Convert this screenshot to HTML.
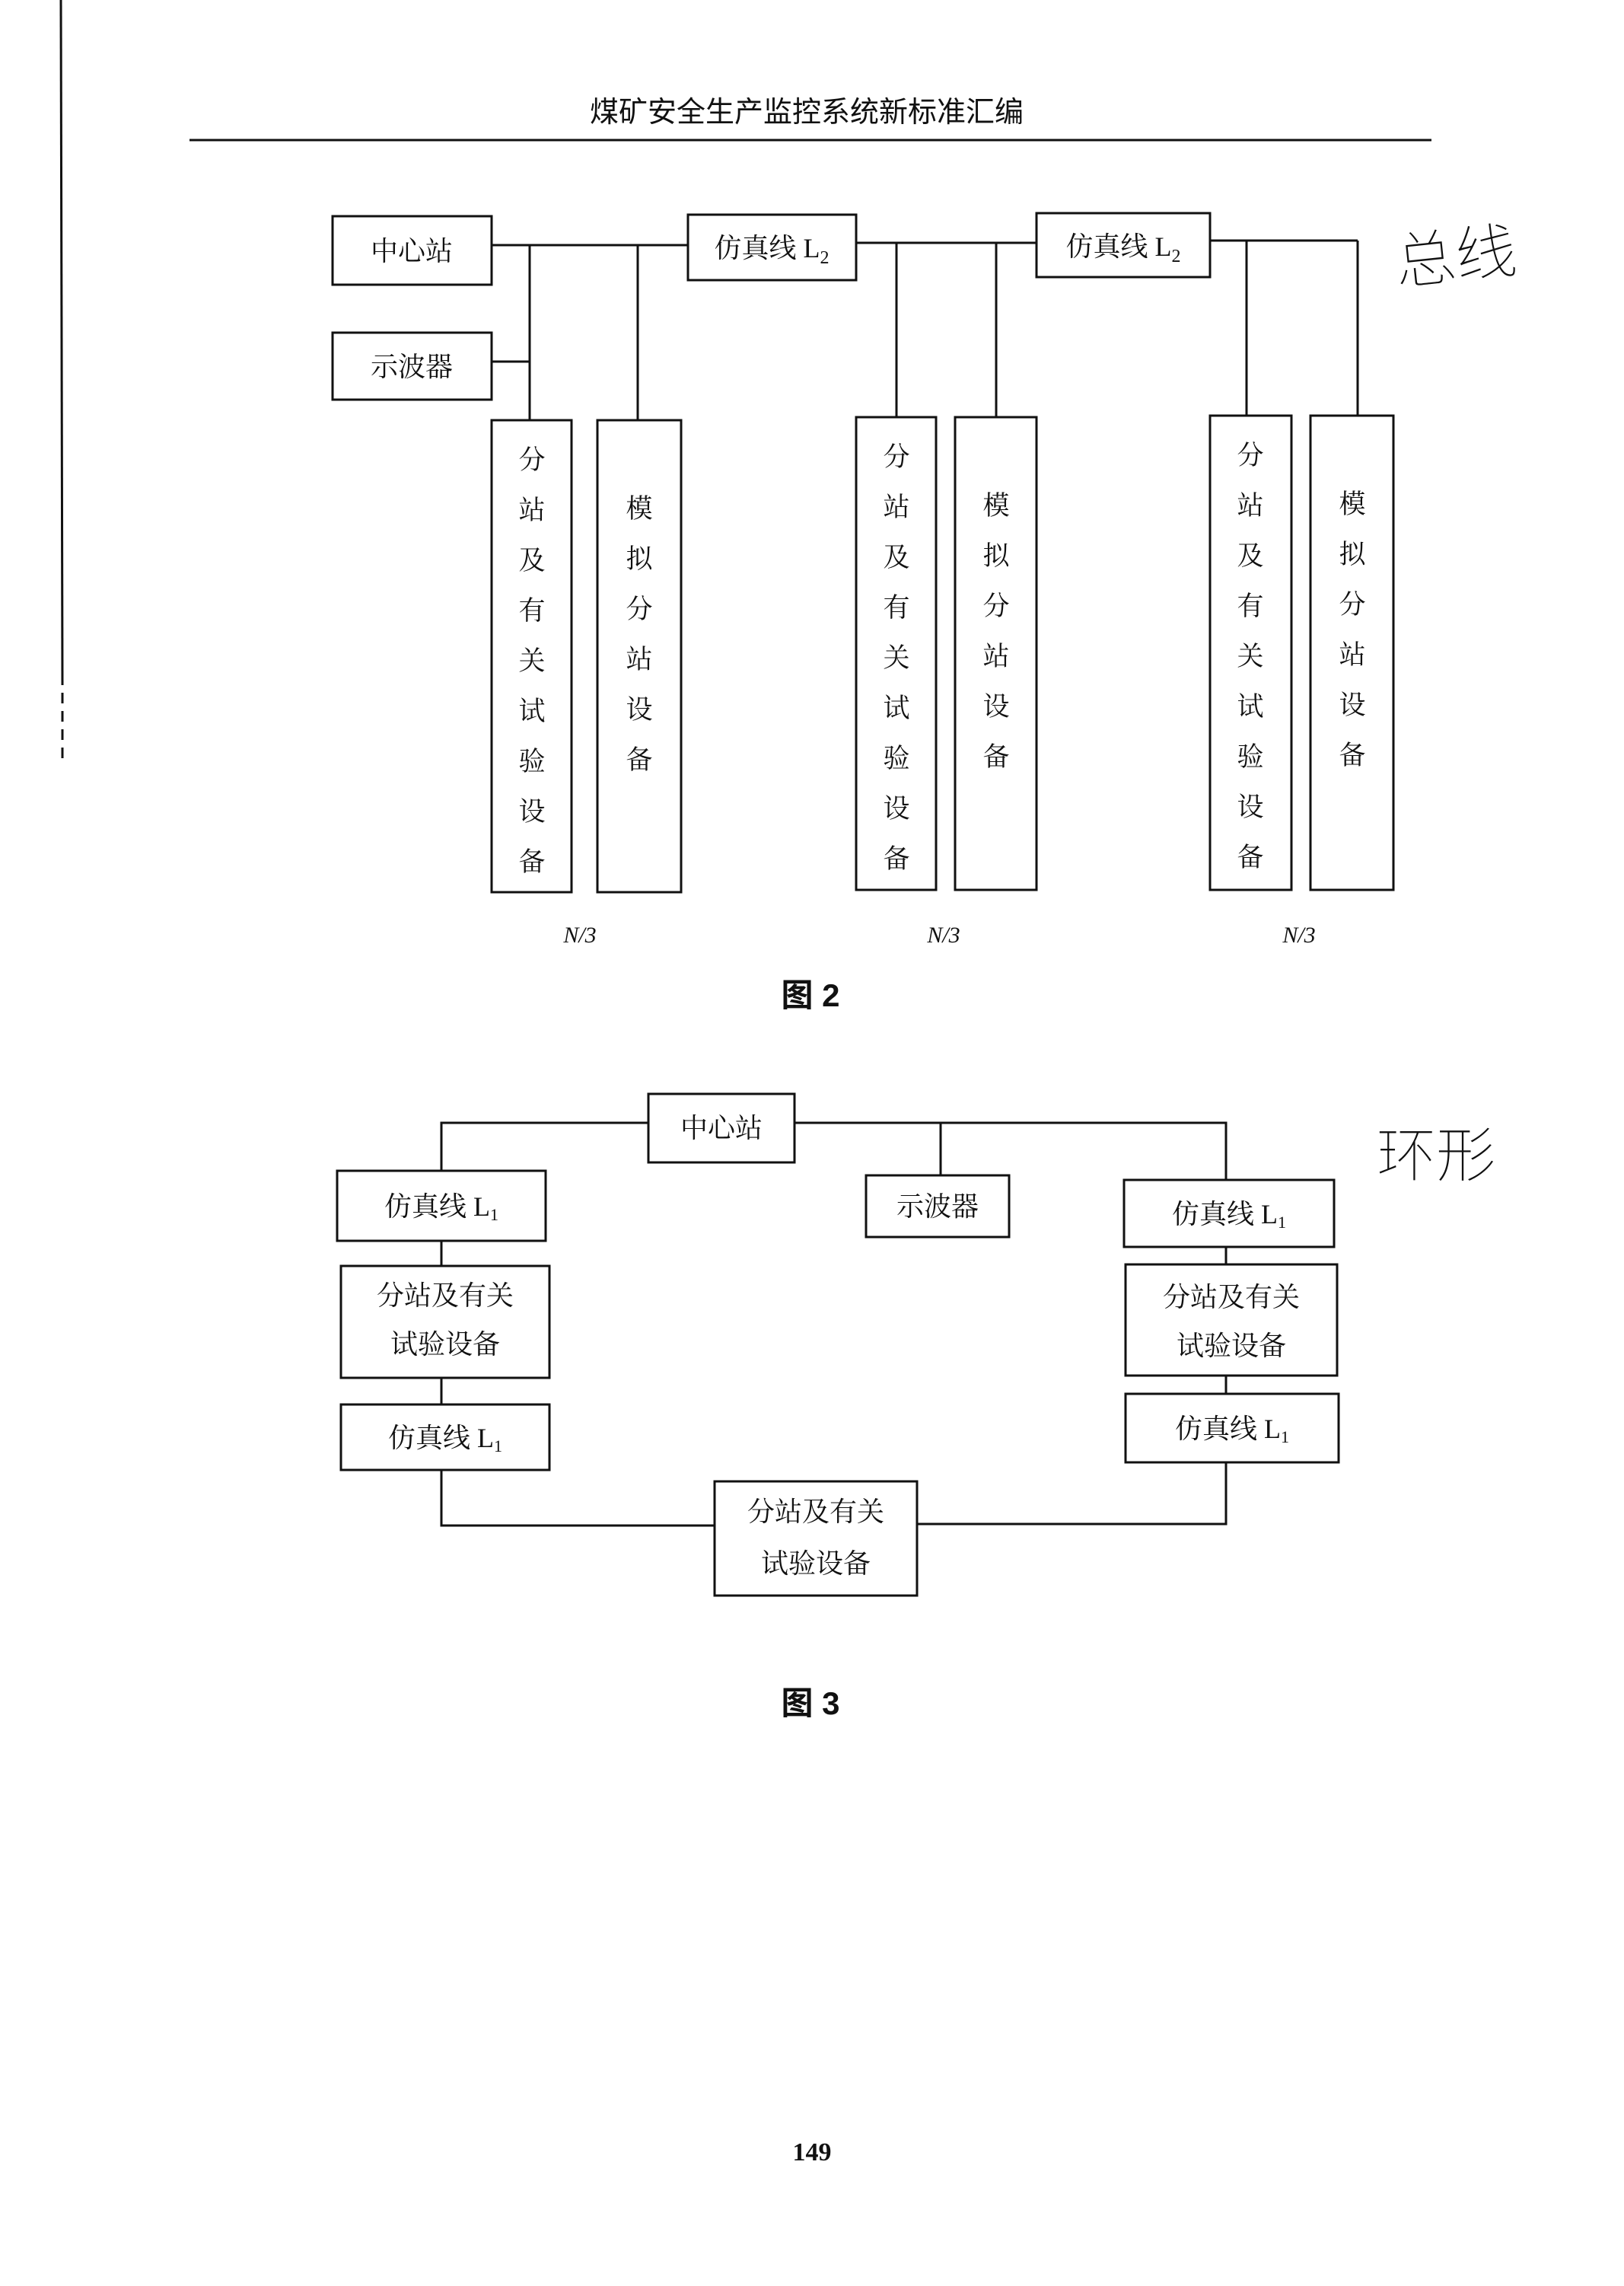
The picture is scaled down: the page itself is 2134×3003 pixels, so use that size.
<!DOCTYPE html>
<html><head><meta charset="utf-8"><style>
html,body{margin:0;padding:0;background:#fff;}
svg{display:block;}
text{font-family:"Liberation Serif","Noto Serif CJK SC","Noto Sans CJK SC",serif;fill:#111;}
.s{font-family:"Liberation Sans","Noto Sans CJK SC",sans-serif;}
.h{font-family:"Noto Sans CJK SC",sans-serif;font-weight:100;}
</style></head><body>
<svg width="2134" height="3003" viewBox="0 0 2134 3003" xmlns="http://www.w3.org/2000/svg">
<g stroke="#111" fill="none">
<line x1="80" y1="0" x2="82" y2="900" stroke-width="3"/>
<line x1="82" y1="910" x2="82" y2="1000" stroke-width="3" stroke-dasharray="14 10"/>
<line x1="249" y1="184" x2="1881" y2="184" stroke-width="3"/>
</g>
<text x="1060" y="160" font-size="38" text-anchor="middle" class="s">煤矿安全生产监控系统新标准汇编</text>

<g stroke="#111" stroke-width="3" fill="none">
<rect x="437" y="284" width="209" height="90"/>
<rect x="437" y="437" width="209" height="88"/>
<rect x="904" y="282" width="221" height="86"/>
<rect x="1362" y="280" width="228" height="84"/>
<line x1="646" y1="322" x2="904" y2="322"/>
<line x1="1125" y1="319" x2="1362" y2="319"/>
<line x1="1590" y1="316" x2="1784" y2="316"/>
<line x1="646" y1="475" x2="696" y2="475"/>
<line x1="696" y1="322" x2="696" y2="552"/>
<line x1="838" y1="322" x2="838" y2="552"/>
<line x1="1178" y1="319" x2="1178" y2="548"/>
<line x1="1309" y1="319" x2="1309" y2="548"/>
<line x1="1638" y1="316" x2="1638" y2="546"/>
<line x1="1784" y1="316" x2="1784" y2="546"/>
<rect x="646" y="552" width="105" height="620"/>
<rect x="785" y="552" width="110" height="620"/>
<rect x="1125" y="548" width="105" height="621"/>
<rect x="1255" y="548" width="107" height="621"/>
<rect x="1590" y="546" width="107" height="623"/>
<rect x="1722" y="546" width="109" height="623"/>
</g>
<g font-size="36" text-anchor="middle">
<text x="541" y="342">中心站</text>
<text x="541" y="494">示波器</text>
<text x="1014" y="338">仿真线 L<tspan font-size="24" dy="8">2</tspan></text>
<text x="1476" y="336">仿真线 L<tspan font-size="24" dy="8">2</tspan></text>
</g>
<g font-size="35" text-anchor="middle">
<g transform="translate(699,616)">
<text y="0">分</text><text y="66">站</text><text y="132">及</text><text y="198">有</text><text y="264">关</text><text y="330">试</text><text y="396">验</text><text y="462">设</text><text y="528">备</text></g>
<g transform="translate(840,680)">
<text y="0">模</text><text y="66">拟</text><text y="132">分</text><text y="198">站</text><text y="264">设</text><text y="330">备</text></g>
<g transform="translate(1178,612)">
<text y="0">分</text><text y="66">站</text><text y="132">及</text><text y="198">有</text><text y="264">关</text><text y="330">试</text><text y="396">验</text><text y="462">设</text><text y="528">备</text></g>
<g transform="translate(1309,676)">
<text y="0">模</text><text y="66">拟</text><text y="132">分</text><text y="198">站</text><text y="264">设</text><text y="330">备</text></g>
<g transform="translate(1643,610)">
<text y="0">分</text><text y="66">站</text><text y="132">及</text><text y="198">有</text><text y="264">关</text><text y="330">试</text><text y="396">验</text><text y="462">设</text><text y="528">备</text></g>
<g transform="translate(1777,674)">
<text y="0">模</text><text y="66">拟</text><text y="132">分</text><text y="198">站</text><text y="264">设</text><text y="330">备</text></g>
</g>
<g font-size="30" font-style="italic" text-anchor="middle">
<text x="762" y="1238">N/3</text><text x="1240" y="1238">N/3</text><text x="1707" y="1238">N/3</text>
</g>
<text x="1065" y="1322" font-size="42" text-anchor="middle" class="s" font-weight="bold">图 2</text>
<text x="1912" y="365" font-size="80" text-anchor="middle" class="h" transform="rotate(-6 1912 330)">总线</text>

<g stroke="#111" stroke-width="3" fill="none">
<rect x="852" y="1437" width="192" height="90"/>
<rect x="1138" y="1544" width="188" height="81"/>
<rect x="443" y="1538" width="274" height="92"/>
<rect x="448" y="1663" width="274" height="147"/>
<rect x="448" y="1845" width="274" height="86"/>
<rect x="939" y="1946" width="266" height="150"/>
<rect x="1477" y="1550" width="276" height="88"/>
<rect x="1479" y="1661" width="278" height="146"/>
<rect x="1479" y="1831" width="280" height="90"/>
<polyline points="852,1475 580,1475 580,1538"/>
<polyline points="1044,1475 1611,1475 1611,1550"/>
<line x1="1236" y1="1475" x2="1236" y2="1544"/>
<line x1="580" y1="1630" x2="580" y2="1663"/>
<line x1="580" y1="1810" x2="580" y2="1845"/>
<polyline points="580,1931 580,2004 939,2004"/>
<polyline points="1205,2002 1611,2002 1611,1921"/>
<line x1="1611" y1="1638" x2="1611" y2="1661"/>
<line x1="1611" y1="1807" x2="1611" y2="1831"/>
</g>
<g font-size="36" text-anchor="middle">
<text x="948" y="1494">中心站</text>
<text x="1232" y="1597">示波器</text>
<text x="580" y="1597">仿真线 L<tspan font-size="22" dy="6">1</tspan></text>
<text x="585" y="1714">分站及有关</text>
<text x="585" y="1778">试验设备</text>
<text x="585" y="1901">仿真线 L<tspan font-size="22" dy="6">1</tspan></text>
<text x="1072" y="1998">分站及有关</text>
<text x="1072" y="2066">试验设备</text>
<text x="1615" y="1607">仿真线 L<tspan font-size="22" dy="6">1</tspan></text>
<text x="1618" y="1716">分站及有关</text>
<text x="1618" y="1780">试验设备</text>
<text x="1619" y="1889">仿真线 L<tspan font-size="22" dy="6">1</tspan></text>
</g>
<text x="1065" y="2252" font-size="42" text-anchor="middle" class="s" font-weight="bold">图 3</text>
<text x="1887" y="1545" font-size="78" text-anchor="middle" class="h">环形</text>
<text x="1067" y="2838" font-size="34" text-anchor="middle" font-weight="bold">149</text>
</svg>
</body></html>
